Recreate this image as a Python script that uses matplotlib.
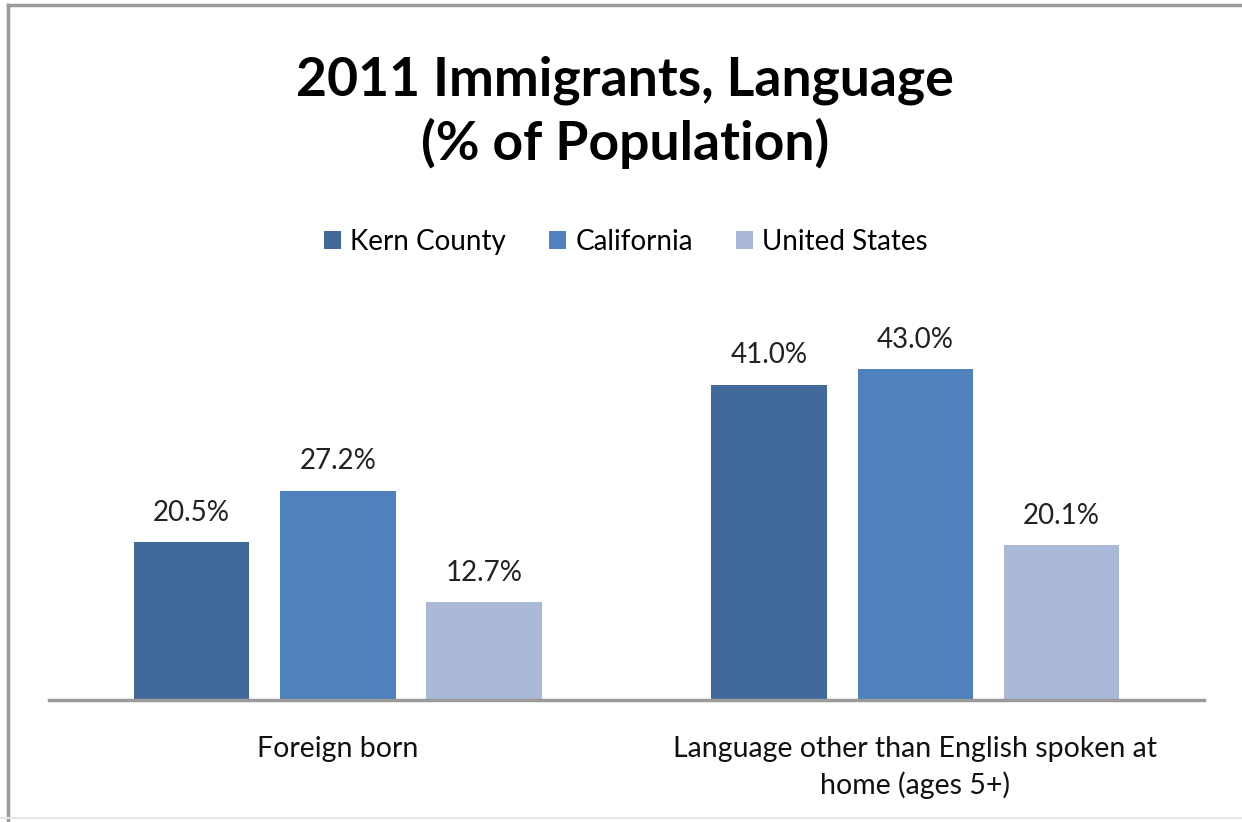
import matplotlib
matplotlib.use('Agg')
import matplotlib.pyplot as plt
import numpy as np
from matplotlib.patches import Patch
from matplotlib.lines import Line2D

categories = ['Foreign born', 'Language other than English spoken at\nhome (ages 5+)']
series = ['Kern County', 'California', 'United States']
kern = [20.5, 41.0]
california = [27.2, 43.0]
united_states = [12.7, 20.1]
colors = ['#41699A', '#4F81BD', '#AAB9D7']

plt.rcParams['font.family'] = ['Lato', 'DejaVu Sans']

fig = plt.figure(figsize=(12.42, 8.22), dpi=100)
ax = fig.add_axes([49 / 1242, 1 - 700 / 822, 1155 / 1242, 400 / 822])

x = np.arange(len(categories))
width = 0.2
step = 0.253
for i, (name, vals) in enumerate(zip(series, [kern, california, united_states])):
    bars = ax.bar(x + (i - 1) * step, vals, width, color=colors[i], label=name)
    ax.bar_label(bars, labels=[f'{v:.1f}%' for v in vals], padding=12,
                 fontsize=20, color='#222222')

ax.set_xlim(-0.5, 1.5)
ax.set_ylim(0, 52)
ax.set_xticks(x)
ax.set_xticklabels(categories, fontsize=20.5, linespacing=1.4, color='#111111')
ax.tick_params(axis='x', length=0, pad=26)
ax.set_yticks([])
for side in ['top', 'right', 'left']:
    ax.spines[side].set_visible(False)
ax.spines['bottom'].set_color('#9A9A9A')
ax.spines['bottom'].set_linewidth(2.5)

fig.text(625 / 1242, 1 - 112 / 822, '2011 Immigrants, Language\n(% of Population)',
         ha='center', va='center', fontsize=38.5, fontweight='bold', linespacing=1.3)

handles = [Patch(facecolor=c) for c in colors]
fig.legend(handles, series, loc='center', bbox_to_anchor=(626 / 1242, 1 - 242 / 822),
           ncol=3, frameon=False, fontsize=20, handlelength=0.6, handleheight=0.6,
           handletextpad=0.35, columnspacing=1.55)

# outer frame
fig.add_artist(Line2D([8 / 1242, 8 / 1242], [0, 1 - 5 / 822], transform=fig.transFigure,
                      color='#9A9A9A', lw=2.5))
fig.add_artist(Line2D([8 / 1242, 1], [1 - 5 / 822, 1 - 5 / 822], transform=fig.transFigure,
                      color='#9A9A9A', lw=2.5))
fig.add_artist(Line2D([0, 1], [1 - 818 / 822, 1 - 818 / 822], transform=fig.transFigure,
                      color='#E6E6E6', lw=1.5))

fig.savefig('out.png', dpi=100)
